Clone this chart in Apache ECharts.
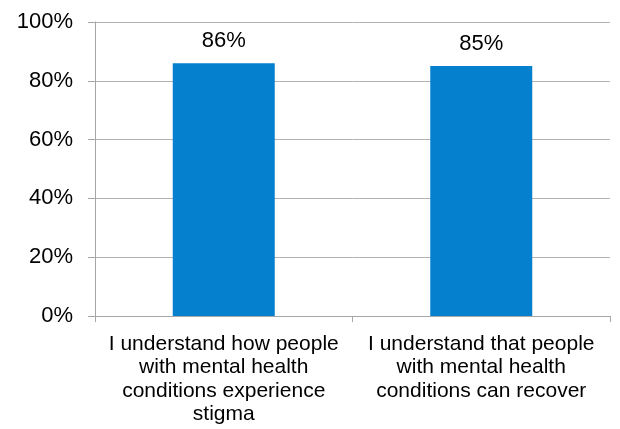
<!DOCTYPE html>
<html><head><meta charset="utf-8">
<script src="https://cdn.jsdelivr.net/npm/echarts@6/dist/echarts.min.js"></script>
<style>html,body{margin:0;padding:0;background:#fff}#c{width:620px;height:429px}</style>
</head><body><div id="c"></div>
<script>
const categories = [
  "I understand how people\nwith mental health\nconditions experience\nstigma",
  "I understand that people\nwith mental health\nconditions can recover"
];
const values = [86, 85];
const yTicks = [0, 20, 40, 60, 80, 100];

const chart = echarts.init(document.getElementById('c'), null, {renderer: 'canvas'});
chart.setOption({
  animation: false,
  textStyle: {fontFamily: 'Liberation Sans, Arial, sans-serif'},
  grid: {left: 95, right: 10, top: 22, bottom: 113, containLabel: false},
  xAxis: {
    type: 'category',
    data: categories,
    axisLine: {lineStyle: {color: '#a6a6a6', width: 1}},
    axisTick: {show: true, length: 6, alignWithLabel: false, lineStyle: {color: '#a6a6a6'}},
    axisLabel: {color: '#000', fontSize: 21, lineHeight: 23.5, margin: 16, interval: 0, align: 'center'}
  },
  yAxis: {
    type: 'value',
    min: yTicks[0], max: yTicks[yTicks.length - 1], interval: 20,
    axisLine: {show: true, lineStyle: {color: '#a6a6a6', width: 1}},
    axisTick: {show: true, length: 7, lineStyle: {color: '#a6a6a6'}},
    splitLine: {show: true, lineStyle: {color: '#b3b3b3', width: 1}},
    axisLabel: {color: '#000', fontSize: 22, margin: 22, formatter: v => v + '%'}
  },
  series: [{
    type: 'bar',
    data: values,
    barWidth: 102,
    itemStyle: {color: '#0580CE'},
    label: {show: true, position: 'top', distance: 11, color: '#000', fontSize: 22, formatter: p => p.value + '%'}
  }]
});
</script></body></html>
